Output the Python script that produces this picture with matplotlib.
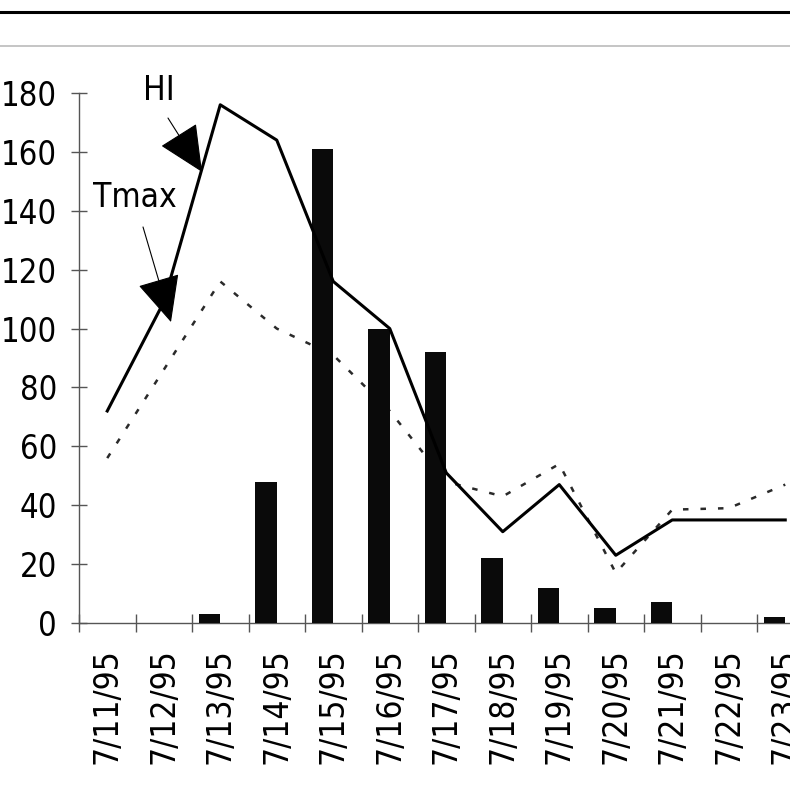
import numpy as np
import matplotlib
matplotlib.use("Agg")
import matplotlib.pyplot as plt
from matplotlib.lines import Line2D

plt.rcParams['font.family'] = ['Liberation Sans Narrow', 'DejaVu Sans']
plt.rcParams['font.stretch'] = 'condensed'

dates = ["7/11/95", "7/12/95", "7/13/95", "7/14/95", "7/15/95", "7/16/95", "7/17/95",
         "7/18/95", "7/19/95", "7/20/95", "7/21/95", "7/22/95", "7/23/95"]
bars = [0, 0, 3, 48, 161, 100, 92, 22, 12, 5, 7, 0, 2]
hi = [72, 109, 176, 164, 116, 100, 51, 31, 47, 23, 35, 35, 35]
tmax = [56, 86, 116, 100, 91, 72, 48, 43, 54, 17, 38.5, 39, 47]

x = np.arange(len(dates))

fig = plt.figure(figsize=(7.9, 7.9), dpi=100)
ax = fig.add_axes([79 / 790, 167 / 790, 734.5 / 790, 530 / 790])

bw = 0.38
ax.bar(x - bw, bars, width=bw, align='edge', color='#0a0a0a', zorder=3)
ax.plot(x, hi, color='black', lw=2.2, zorder=4)
ax.plot(x, tmax, color='#2a2a2a', lw=1.8, dashes=(2.2, 4.8), zorder=2)

ax.set_xlim(-0.5, 12.5)
ax.set_ylim(0, 180)

for s in ['top', 'right']:
    ax.spines[s].set_visible(False)
for s in ['left', 'bottom']:
    ax.spines[s].set_color('#555555')
    ax.spines[s].set_linewidth(1.0)

ax.set_yticks(range(0, 181, 20))
ax.tick_params(axis='y', direction='inout', length=11.5, width=1.0, color='#555555',
               pad=10, labelsize=23.5)
ax.set_xticks(x)
ax.set_xticklabels(dates, rotation=90)
ax.set_xticks(np.arange(-0.5, 13, 1), minor=True)
ax.tick_params(axis='x', which='major', length=0, pad=18, labelsize=24)
ax.tick_params(axis='x', which='minor', direction='inout', length=13, width=1.0,
               color='#555555')

# labels with arrows
ax.text(0.92, 181, "HI", fontsize=24, ha='center', va='center')
ax.annotate('', xy=(1.677, 153.2), xytext=(1.075, 171.5),
            arrowprops=dict(arrowstyle='-|>,head_length=3.0,head_width=1.4',
                            color='black', lw=0.8, shrinkA=0, shrinkB=0))
ax.text(0.49, 144.4, "Tmax", fontsize=24, ha='center', va='center')
ax.annotate('', xy=(1.128, 102.2), xytext=(0.633, 134.5),
            arrowprops=dict(arrowstyle='-|>,head_length=3.0,head_width=1.4',
                            color='black', lw=0.8, shrinkA=0, shrinkB=0))

# scanned page rules at the top
fig.add_artist(Line2D([0, 1], [1 - 12 / 790, 1 - 12 / 790], color='black', lw=2.2))
fig.add_artist(Line2D([0, 1], [1 - 46 / 790, 1 - 46 / 790], color='#bbbbbb', lw=1.2))

fig.savefig("out.png", dpi=100)
